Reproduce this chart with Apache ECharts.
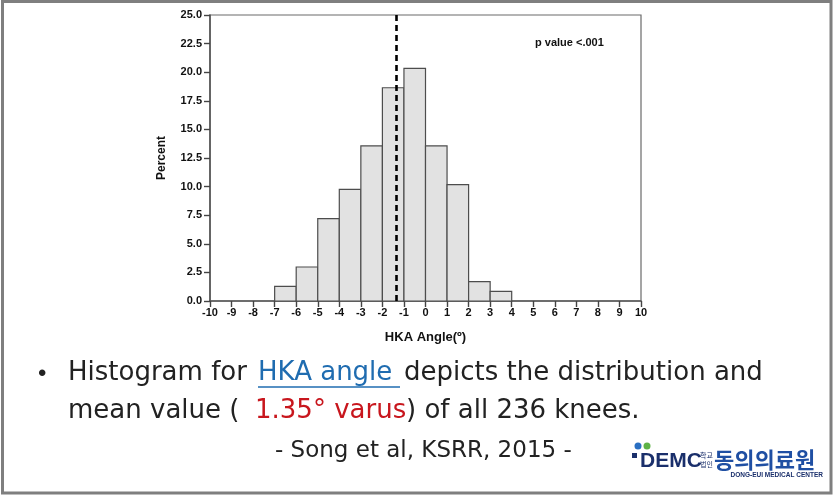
<!DOCTYPE html>
<html>
<head>
<meta charset="utf-8">
<script src="https://cdn.jsdelivr.net/npm/echarts@6/dist/echarts.min.js"></script>
<style>html,body{margin:0;padding:0;background:#fff;}#c{width:834px;height:498px;}</style>
</head>
<body>
<div id="c"></div>
<script>
// ---- data ----
var binStarts = [-7, -6, -5, -4, -3, -2, -1, 0, 1, 2, 3];
var binEnds   = [-6, -5, -4, -3, -2, -1, 0, 1, 2, 3, 4];
var percents  = [1.27, 2.97, 7.20, 9.75, 13.56, 18.64, 20.34, 13.56, 10.17, 1.69, 0.85];
var meanAngle = -1.35;
var xTicks = [-10, -9, -8, -7, -6, -5, -4, -3, -2, -1, 0, 1, 2, 3, 4, 5, 6, 7, 8, 9, 10];
var yTicks = [0, 2.5, 5, 7.5, 10, 12.5, 15, 17.5, 20, 22.5, 25];

var histData = binStarts.map(function (s, i) { return [s, binEnds[i], percents[i]]; });

var chart = echarts.init(document.getElementById('c'), null, {renderer: 'canvas'});

function renderItem(params, api) {
  var p0 = api.coord([api.value(0), api.value(2)]);
  var p1 = api.coord([api.value(1), 0]);
  return {
    type: 'rect',
    shape: {x: p0[0], y: p0[1], width: p1[0] - p0[0], height: p1[1] - p0[1]},
    style: {fill: '#e2e2e2', stroke: '#4d4d4d', lineWidth: 1.2}
  };
}

var tickFont = {fontFamily: 'Liberation Sans', fontWeight: 'bold', fontSize: 11, color: '#111'};
var slideFont = 'DejaVu Sans';

var option = {
  animation: false,
  backgroundColor: '#fff',
  grid: {left: 210, right: 193, top: 15, bottom: 197, show: true, borderColor: '#6a6a6a', borderWidth: 1.2, backgroundColor: 'transparent'},
  xAxis: {
    type: 'value', min: xTicks[0], max: xTicks[xTicks.length - 1], interval: 1,
    name: 'HKA Angle(º)', nameLocation: 'middle', nameGap: 30,
    nameTextStyle: {fontFamily: 'Liberation Sans', fontWeight: 'bold', fontSize: 13, color: '#111'},
    axisLine: {show: true, onZero: false, lineStyle: {color: '#555', width: 1.6}},
    axisTick: {show: true, length: 6, lineStyle: {color: '#444', width: 1.4}},
    axisLabel: Object.assign({margin: 6, formatter: function (v) { return String(v); }}, tickFont),
    splitLine: {show: false}
  },
  yAxis: {
    type: 'value', min: yTicks[0], max: yTicks[yTicks.length - 1], interval: 2.5,
    name: 'Percent', nameLocation: 'middle', nameGap: 42, nameRotate: 90,
    nameTextStyle: {fontFamily: 'Liberation Sans', fontWeight: 'bold', fontSize: 12, color: '#111'},
    axisLine: {show: true, onZero: false, lineStyle: {color: '#555', width: 1.6}},
    axisTick: {show: true, length: 6, lineStyle: {color: '#444', width: 1.4}},
    axisLabel: Object.assign({margin: 8, formatter: function (v) { return v.toFixed(1); }}, tickFont),
    splitLine: {show: false}
  },
  series: [{
    type: 'custom',
    renderItem: renderItem,
    encode: {x: [0, 1], y: 2},
    data: histData,
    silent: true,
    markLine: {
      silent: true,
      symbol: ['none', 'none'],
      label: {show: false},
      lineStyle: {color: '#000', width: 2.6, type: [6, 4]},
      data: [{xAxis: meanAngle}]
    }
  }],
  graphic: [
    {type: 'rect', shape: {x: 2.5, y: 1.5, width: 828.5, height: 491.5}, style: {fill: 'none', stroke: '#7f7f7f', lineWidth: 3}, silent: true},
    {type: 'text', left: 535, top: 37, style: {text: 'p value <.001', fontFamily: 'Liberation Sans', fontWeight: 'bold', fontSize: 11, fill: '#111'}},
    // bullet text
    {type: 'text', x: 38, y: 374, style: {text: '•', fontFamily: 'Liberation Sans', fontSize: 24, fill: '#222', verticalAlign: 'middle'}},
    {type: 'text', x: 68, y: 373, style: {text: 'Histogram for', fontFamily: slideFont, fontSize: 26, fill: '#222', verticalAlign: 'middle'}},
    {type: 'text', x: 258, y: 373, style: {text: 'HKA angle', fontFamily: slideFont, fontSize: 26, fill: '#1f6cb0', verticalAlign: 'middle'}},
    {type: 'line', shape: {x1: 258, y1: 387, x2: 400, y2: 387}, style: {stroke: '#1f6cb0', lineWidth: 1.6}},
    {type: 'text', x: 404, y: 373, style: {text: 'depicts the distribution and', fontFamily: slideFont, fontSize: 26, fill: '#222', verticalAlign: 'middle'}},
    {type: 'text', x: 68, y: 411, style: {text: 'mean value (', fontFamily: slideFont, fontSize: 26, fill: '#222', verticalAlign: 'middle'}},
    {type: 'text', x: 255, y: 411, style: {text: '1.35° varus', fontFamily: slideFont, fontSize: 26, fill: '#c8161d', verticalAlign: 'middle'}},
    {type: 'text', x: 406, y: 411, style: {text: ') of all 236 knees.', fontFamily: slideFont, fontSize: 26, fill: '#222', verticalAlign: 'middle'}},
    {type: 'text', x: 275, y: 451, style: {text: '- Song et al, KSRR, 2015 -', fontFamily: slideFont, fontSize: 23, fill: '#222', verticalAlign: 'middle'}},
    // logo
    {type: 'circle', shape: {cx: 638, cy: 446, r: 3.5}, style: {fill: '#2a6fc2'}},
    {type: 'circle', shape: {cx: 647, cy: 446, r: 3.5}, style: {fill: '#5fb246'}},
    {type: 'rect', shape: {x: 632, y: 453, width: 5, height: 5}, style: {fill: '#1a2f6b'}},
    {type: 'text', x: 640, y: 461, style: {text: 'DEMC', fontFamily: 'Liberation Sans', fontWeight: 'bold', fontSize: 21, fill: '#1a2f6b', verticalAlign: 'middle'}},
    {type: 'text', x: 700, y: 455, style: {text: '학교', fontFamily: 'Noto Sans CJK KR', fontSize: 7, fill: '#1a2f6b', verticalAlign: 'middle'}},
    {type: 'text', x: 700, y: 464, style: {text: '법인', fontFamily: 'Noto Sans CJK KR', fontSize: 7, fill: '#1a2f6b', verticalAlign: 'middle'}},
    {type: 'text', x: 714, y: 460, style: {text: '동의의료원', fontFamily: 'Noto Sans CJK KR', fontWeight: 'bold', fontSize: 22, fill: '#1f4fa3', verticalAlign: 'middle'}},
    {type: 'text', x: 823, y: 475, style: {text: 'DONG-EUI MEDICAL CENTER', fontFamily: 'Liberation Sans', fontWeight: 'bold', fontSize: 6.5, fill: '#1a2f6b', align: 'right', verticalAlign: 'middle'}}
  ]
};
chart.setOption(option);
</script>
</body>
</html>
